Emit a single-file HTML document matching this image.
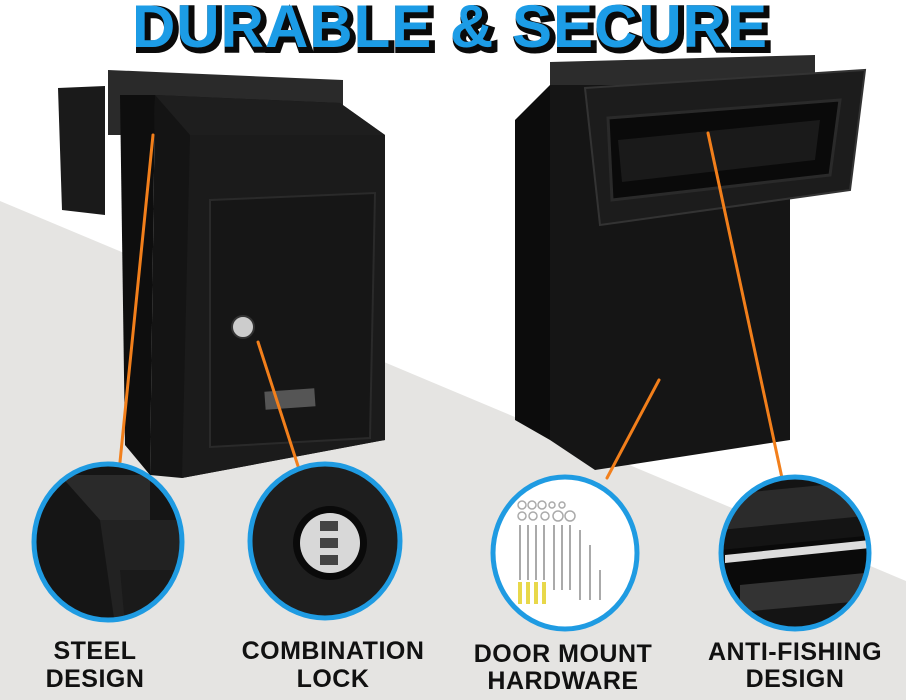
<!DOCTYPE html>
<html><head><style>
html,body{margin:0;padding:0;width:906px;height:700px;overflow:hidden;background:#fff}
svg{display:block}
text{font-family:"Liberation Sans",sans-serif;font-weight:bold}
</style></head><body>
<svg width="906" height="700" viewBox="0 0 906 700">
<defs>
<clipPath id="c1"><ellipse cx="108" cy="542" rx="74" ry="78"/></clipPath>
<clipPath id="c2"><ellipse cx="325" cy="541" rx="75" ry="77"/></clipPath>
<clipPath id="c3"><ellipse cx="565" cy="553" rx="72" ry="76"/></clipPath>
<clipPath id="c4"><ellipse cx="795" cy="553" rx="74" ry="76"/></clipPath>
</defs>
<polygon points="0,201 906,581 906,700 0,700" fill="#e5e4e2"/>
<!-- title -->
<text x="453" y="50" text-anchor="middle" font-size="60" fill="#0a0a0a" stroke="#0a0a0a" stroke-width="6" letter-spacing="1">DURABLE &amp; SECURE</text>
<text x="450" y="47" text-anchor="middle" font-size="60" fill="#1c9ce6" letter-spacing="1">DURABLE &amp; SECURE</text>
<!-- left box -->
<polygon points="58,88 105,86 105,215 62,210" fill="#1a1a1a"/>
<polygon points="108,70 343,80 343,135 108,135" fill="#2a2a2a"/>
<polygon points="120,95 155,95 150,475 125,445" fill="#0e0e0e"/>
<polygon points="155,95 340,103 385,135 385,440 182,478 150,475" fill="#141414"/>
<polygon points="155,95 340,103 385,135 190,135" fill="#1e1e1e"/>
<polygon points="190,135 385,135 385,440 182,478" fill="#1b1b1b"/>
<polygon points="210,200 375,193 370,438 210,447" fill="#161616" stroke="#2a2a2a" stroke-width="2"/>
<rect x="265" y="390" width="50" height="18" fill="#555" transform="rotate(-4 290 400)"/>
<circle cx="243" cy="327" r="11" fill="#ccc" stroke="#333" stroke-width="2"/>
<!-- right box -->
<polygon points="550,62 815,55 815,90 550,95" fill="#2c2c2c"/>
<polygon points="515,120 550,85 550,440 515,420" fill="#0c0c0c"/>
<polygon points="550,85 790,85 790,440 595,470 550,440" fill="#151515"/>
<polygon points="585,88 865,70 850,190 600,225" fill="#1c1c1c" stroke="#333" stroke-width="2"/>
<polygon points="608,118 840,100 830,175 612,200" fill="#0a0a0a" stroke="#2a2a2a" stroke-width="3"/>
<polygon points="618,140 820,120 815,160 622,182" fill="#1a1a1a"/>
<!-- orange lines -->
<g stroke="#f27f1b" stroke-width="3" stroke-linecap="round">
<line x1="153" y1="135" x2="120" y2="462"/>
<line x1="258" y1="342" x2="298" y2="466"/>
<line x1="659" y1="380" x2="607" y2="478"/>
<line x1="708" y1="133" x2="782" y2="478"/>
</g>
<!-- circle 1 -->
<g clip-path="url(#c1)">
<rect x="30" y="460" width="160" height="165" fill="#151515"/>
<polygon points="60,475 150,475 150,520 100,520" fill="#2a2a2a"/>
<polygon points="100,520 190,520 190,625 115,625" fill="#222"/>
<polygon points="120,570 190,570 190,625 125,625" fill="#1a1a1a"/>
</g>
<ellipse cx="108" cy="542" rx="74" ry="78" fill="none" stroke="#1f9be2" stroke-width="5"/>
<!-- circle 2 -->
<g clip-path="url(#c2)">
<rect x="245" y="460" width="160" height="165" fill="#1e1e1e"/>
<circle cx="330" cy="543" r="37" fill="#0a0a0a"/>
<circle cx="330" cy="543" r="30" fill="#d8d8d8"/>
<rect x="320" y="521" width="18" height="10" fill="#444"/>
<rect x="320" y="538" width="18" height="10" fill="#444"/>
<rect x="320" y="555" width="18" height="10" fill="#444"/>
</g>
<ellipse cx="325" cy="541" rx="75" ry="77" fill="none" stroke="#1f9be2" stroke-width="5"/>
<!-- circle 3 -->
<ellipse cx="565" cy="553" rx="72" ry="76" fill="#fff"/>
<g clip-path="url(#c3)">
<g fill="none" stroke="#aaa" stroke-width="1.5">
<circle cx="522" cy="505" r="4"/><circle cx="532" cy="505" r="4"/><circle cx="542" cy="505" r="4"/><circle cx="552" cy="505" r="3"/><circle cx="562" cy="505" r="3"/>
<circle cx="522" cy="516" r="4"/><circle cx="533" cy="516" r="4"/><circle cx="545" cy="516" r="4"/><circle cx="558" cy="516" r="5"/><circle cx="570" cy="516" r="5"/>
</g>
<g stroke="#aaa" stroke-width="2">
<line x1="520" y1="525" x2="520" y2="580"/><line x1="528" y1="525" x2="528" y2="580"/><line x1="536" y1="525" x2="536" y2="580"/><line x1="544" y1="525" x2="544" y2="580"/><line x1="554" y1="525" x2="554" y2="590"/><line x1="562" y1="525" x2="562" y2="590"/><line x1="570" y1="525" x2="570" y2="590"/><line x1="580" y1="530" x2="580" y2="600"/><line x1="590" y1="545" x2="590" y2="600"/><line x1="600" y1="570" x2="600" y2="600"/>
</g>
<g fill="#e8d84a"><rect x="518" y="582" width="4" height="22"/><rect x="526" y="582" width="4" height="22"/><rect x="534" y="582" width="4" height="22"/><rect x="542" y="582" width="4" height="22"/></g>
</g>
<ellipse cx="565" cy="553" rx="72" ry="76" fill="none" stroke="#1f9be2" stroke-width="5"/>
<!-- circle 4 -->
<g clip-path="url(#c4)">
<rect x="715" y="470" width="165" height="165" fill="#141414"/>
<polygon points="720,495 875,480 875,515 720,530" fill="#2b2b2b"/>
<polygon points="720,550 875,535 875,585 720,600" fill="#0a0a0a"/>
<polygon points="725,555 870,540 870,548 725,563" fill="#ddd"/>
<polygon points="740,585 875,572 875,600 740,612" fill="#333"/>
</g>
<ellipse cx="795" cy="553" rx="74" ry="76" fill="none" stroke="#1f9be2" stroke-width="5"/>
<!-- labels -->
<g font-size="25" fill="#111" text-anchor="middle" letter-spacing="0.5">
<text x="95" y="659">STEEL</text><text x="95" y="687">DESIGN</text>
<text x="333" y="659">COMBINATION</text><text x="333" y="687">LOCK</text>
<text x="563" y="662">DOOR MOUNT</text><text x="563" y="689">HARDWARE</text>
<text x="795" y="660">ANTI-FISHING</text><text x="795" y="687">DESIGN</text>
</g>
</svg>
</body></html>
